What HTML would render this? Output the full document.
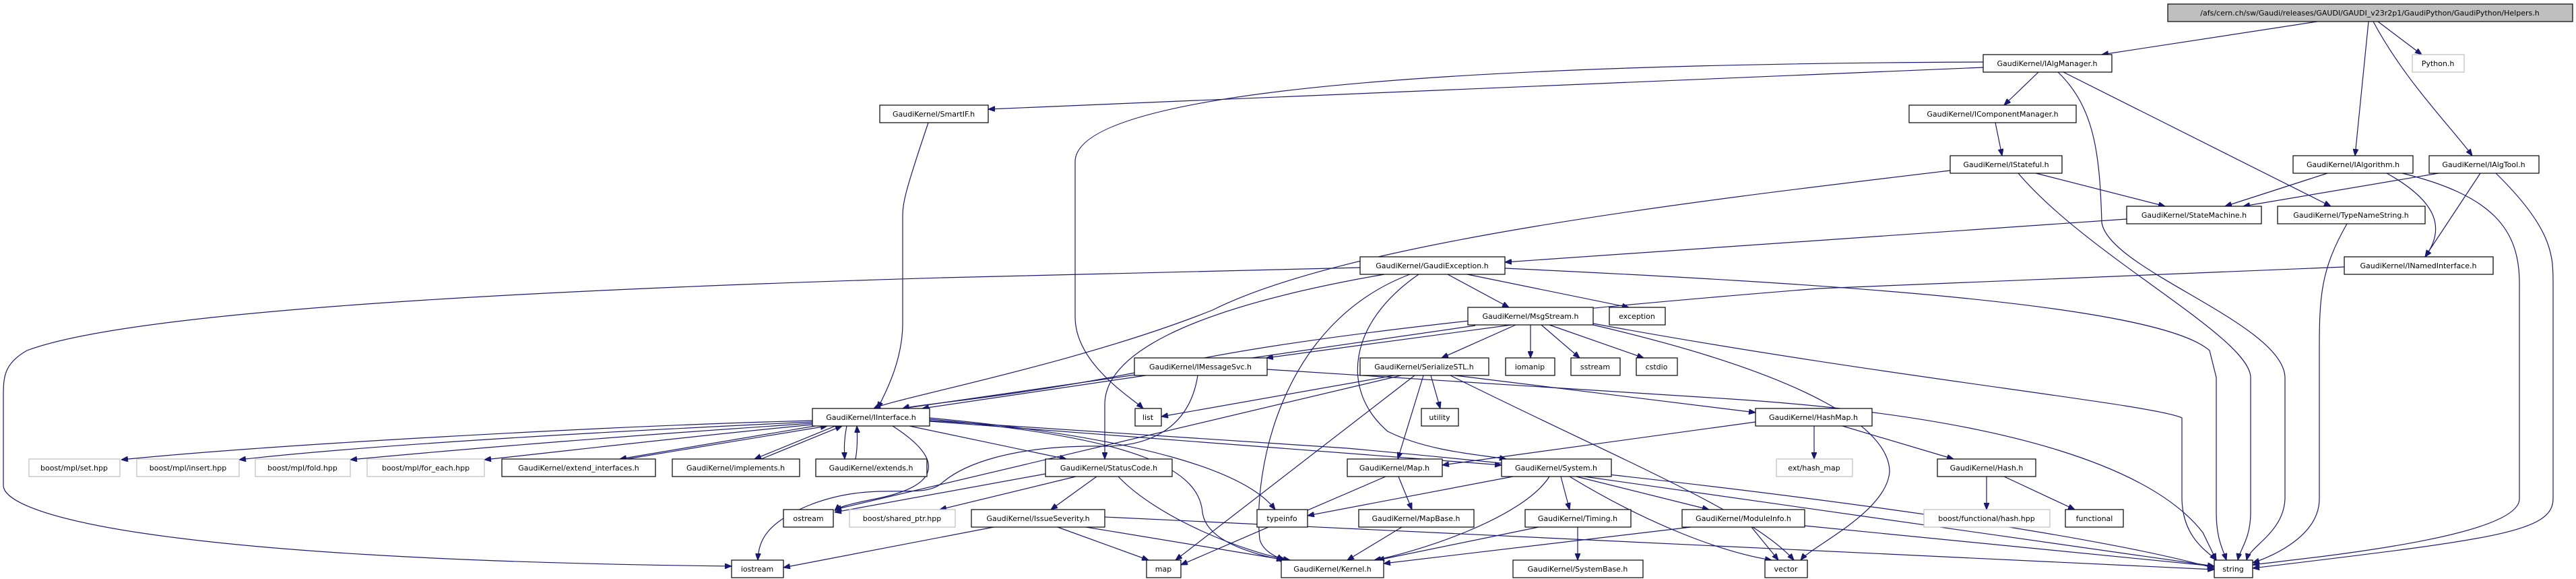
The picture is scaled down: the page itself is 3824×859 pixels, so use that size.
<!DOCTYPE html>
<html><head><meta charset="utf-8"><style>
html,body{margin:0;padding:0;background:#fff;}
svg{display:block;}
text{font-family:"DejaVu Sans","Liberation Sans",sans-serif;font-size:11px;fill:#000;text-anchor:middle;}
.e{fill:none;stroke:#191970;stroke-width:1.2;marker-end:url(#a);}
.n{fill:#fff;stroke:#000;stroke-width:1.2;}
.g{fill:#fff;stroke:#bfbfbf;stroke-width:1.2;}
.h{fill:#bfbfbf;stroke:#000;stroke-width:1.2;}
</style></head><body>
<svg width="3824" height="859" viewBox="0 0 3824 859" xmlns="http://www.w3.org/2000/svg">
<defs><marker id="a" viewBox="0 0 10 8" refX="10" refY="4" markerWidth="10" markerHeight="8" markerUnits="userSpaceOnUse" orient="auto"><path d="M0,0 L10,4 L0,8 z" fill="#191970" stroke="#191970"/></marker></defs>
<g>
<path class="e" d="M3440,32 L3120,81"/>
<path class="e" d="M3530,32 L3595,81"/>
<path class="e" d="M3516,32 L3496,231"/>
<path class="e" d="M3523,32 C3570,120 3640,190 3670,231"/>
<path class="e" d="M2944,100 L1467,162"/>
<path class="e" d="M2944,92 C2200,95 1596,130 1596,240 L1596,470 C1596,540 1680,590 1697,606"/>
<path class="e" d="M3026,107 L2975,156"/>
<path class="e" d="M3055,107 C3110,160 3117,230 3120,330 C3130,400 3390,480 3392,560 L3392,740 C3390,790 3340,810 3335,831"/>
<path class="e" d="M3063,107 L3460,306"/>
<path class="e" d="M2962,182 L2972,231"/>
<path class="e" d="M3022,257 L3214,306"/>
<path class="e" d="M2996,257 C3100,380 3340,500 3341,560 L3341,760 C3341,800 3325,815 3322,831"/>
<path class="e" d="M2895,253 C2500,300 2000,360 1800,460 C1600,540 1330,590 1297,606"/>
<path class="e" d="M3455,257 L3303,306"/>
<path class="e" d="M3543,257 C3620,300 3630,340 3600,381"/>
<path class="e" d="M3566,257 C3700,290 3740,340 3740,420 L3740,740 C3740,800 3400,830 3344,838"/>
<path class="e" d="M3620,257 L3330,306"/>
<path class="e" d="M3682,257 L3600,381"/>
<path class="e" d="M3705,257 C3790,340 3790,380 3790,420 L3790,740 C3790,790 3700,800 3344,843"/>
<path class="e" d="M3157,325 L2234,389"/>
<path class="e" d="M3484,332 C3445,400 3443,440 3443,520 L3443,740 C3443,800 3360,830 3344,835"/>
<path class="e" d="M3480,396 L2700,428 C2300,460 1900,500 1700,550 C1500,590 1360,600 1340,606"/>
<path class="e" d="M2019,397 L1400,412 C800,430 200,460 40,520 C5,540 5,560 5,590 L5,720 C5,760 200,830 1086,840"/>
<path class="e" d="M2149,407 L2240,456"/>
<path class="e" d="M2178,407 L2418,456"/>
<path class="e" d="M2055,407 C1750,460 1640,530 1640,600 L1640,681"/>
<path class="e" d="M2093,407 C1900,480 1860,700 1870,800 C1875,820 1900,828 1905,831"/>
<path class="e" d="M2106,407 C2000,480 1990,580 2060,640 C2120,670 2200,675 2236,681"/>
<path class="e" d="M2234,398 C2700,420 3200,450 3280,520 L3290,560 L3290,760 C3290,800 3300,815 3305,831"/>
<path class="e" d="M2190,483 L1340,606"/>
<path class="e" d="M2244,482 L1880,531"/>
<path class="e" d="M2250,482 L2140,531"/>
<path class="e" d="M2272,482 L2272,531"/>
<path class="e" d="M2288,482 L2345,531"/>
<path class="e" d="M2300,482 L2440,531"/>
<path class="e" d="M2365,482 C2700,560 2805,640 2805,700 C2800,760 2690,810 2673,831"/>
<path class="e" d="M2365,480 C2800,560 3200,600 3239,620 L3239,740 C3240,800 3280,820 3290,831"/>
<path class="e" d="M1701,557 L1369,606"/>
<path class="e" d="M1778,557 C1765,640 1700,662 1640,662 C1500,660 1430,690 1400,715 C1370,745 1300,710 1200,750 C1140,775 1126,800 1125,831"/>
<path class="e" d="M1881,548 L2570,592 C3000,620 3200,700 3270,790 L3290,831"/>
<path class="e" d="M2070,557 L1724,618"/>
<path class="e" d="M2080,557 L1239,756"/>
<path class="e" d="M2100,557 L1745,831"/>
<path class="e" d="M2113,557 L2075,681"/>
<path class="e" d="M2124,557 L2138,606"/>
<path class="e" d="M2160,557 L2606,612"/>
<path class="e" d="M2153,557 C2400,680 2600,760 2663,831"/>
<path class="e" d="M2606,626 L2141,690"/>
<path class="e" d="M2693,632 L2693,681"/>
<path class="e" d="M2735,632 L2900,681"/>
<path class="e" d="M2949,707 L2949,756"/>
<path class="e" d="M2975,707 L3080,756"/>
<path class="e" d="M1206,624 C900,632 400,660 180,682"/>
<path class="e" d="M1206,626 C900,640 550,660 355,682"/>
<path class="e" d="M1206,628 C950,645 700,665 520,682"/>
<path class="e" d="M1206,630 C1000,650 850,668 719,682"/>
<path class="e" d="M1210,632 L920,681"/>
<path class="e" d="M930,681 L1228,632"/>
<path class="e" d="M1240,632 L1120,681"/>
<path class="e" d="M1130,681 L1250,632"/>
<path class="e" d="M1257,632 C1253,650 1253,665 1254,681"/>
<path class="e" d="M1270,681 C1273,665 1273,650 1272,632"/>
<path class="e" d="M1350,632 L1583,681"/>
<path class="e" d="M1380,620 C1700,650 1850,700 1893,756"/>
<path class="e" d="M1380,622 C1700,650 1780,700 1785,760 C1790,800 1850,820 1905,831"/>
<path class="e" d="M1380,625 L2229,690"/>
<path class="e" d="M1380,624 L2000,665 C2600,720 3100,790 3287,843"/>
<path class="e" d="M1325,632 C1400,680 1400,720 1300,740 C1260,748 1245,752 1239,758"/>
<path class="e" d="M1552,703 L1239,760"/>
<path class="e" d="M1597,707 L1395,756"/>
<path class="e" d="M1628,707 L1560,756"/>
<path class="e" d="M1660,707 C1720,770 1850,820 1915,831"/>
<path class="e" d="M1475,782 L1163,842"/>
<path class="e" d="M1570,782 L1705,831"/>
<path class="e" d="M1612,782 L1910,831"/>
<path class="e" d="M1640,767 L3287,845"/>
<path class="e" d="M2057,707 L1753,838"/>
<path class="e" d="M2076,707 L2096,756"/>
<path class="e" d="M2081,782 L2000,831"/>
<path class="e" d="M2246,707 L1941,765"/>
<path class="e" d="M2300,707 C2260,770 2100,820 2040,831"/>
<path class="e" d="M2317,707 L2330,756"/>
<path class="e" d="M2340,707 L2537,756"/>
<path class="e" d="M2330,707 C2450,780 2560,820 2630,831"/>
<path class="e" d="M2352,707 L3287,840"/>
<path class="e" d="M2284,782 L2045,831"/>
<path class="e" d="M2342,782 L2342,831"/>
<path class="e" d="M2510,782 L2054,836"/>
<path class="e" d="M2600,782 L2640,831"/>
<path class="e" d="M2679,780 L3287,840"/>
<path class="e" d="M1378,182 C1345,280 1340,300 1340,320 L1340,479 C1340,540 1310,590 1303,606"/>
</g>
<g>
<rect class="h" x="3218" y="6" width="601" height="26"/><text x="3518" y="23">/afs/cern.ch/sw/Gaudi/releases/GAUDI/GAUDI_v23r2p1/GaudiPython/GaudiPython/Helpers.h</text>
<rect class="n" x="2944" y="81" width="191" height="26"/><text x="3039" y="98">GaudiKernel/IAlgManager.h</text>
<rect class="g" x="3581" y="81" width="77" height="26"/><text x="3619" y="98">Python.h</text>
<rect class="n" x="1306" y="156" width="161" height="26"/><text x="1386" y="173">GaudiKernel/SmartIF.h</text>
<rect class="n" x="2834" y="156" width="248" height="26"/><text x="2958" y="173">GaudiKernel/IComponentManager.h</text>
<rect class="n" x="2895" y="231" width="166" height="26"/><text x="2978" y="248">GaudiKernel/IStateful.h</text>
<rect class="n" x="3404" y="231" width="178" height="26"/><text x="3493" y="248">GaudiKernel/IAlgorithm.h</text>
<rect class="n" x="3606" y="231" width="163" height="26"/><text x="3687" y="248">GaudiKernel/IAlgTool.h</text>
<rect class="n" x="3157" y="306" width="200" height="26"/><text x="3257" y="323">GaudiKernel/StateMachine.h</text>
<rect class="n" x="3381" y="306" width="219" height="26"/><text x="3490" y="323">GaudiKernel/TypeNameString.h</text>
<rect class="n" x="2019" y="381" width="215" height="26"/><text x="2126" y="398">GaudiKernel/GaudiException.h</text>
<rect class="n" x="3480" y="381" width="221" height="26"/><text x="3590" y="398">GaudiKernel/INamedInterface.h</text>
<rect class="n" x="2179" y="456" width="186" height="26"/><text x="2272" y="473">GaudiKernel/MsgStream.h</text>
<rect class="n" x="2389" y="456" width="83" height="26"/><text x="2430" y="473">exception</text>
<rect class="n" x="1684" y="531" width="197" height="26"/><text x="1782" y="548">GaudiKernel/IMessageSvc.h</text>
<rect class="n" x="2019" y="531" width="191" height="26"/><text x="2114" y="548">GaudiKernel/SerializeSTL.h</text>
<rect class="n" x="2235" y="531" width="73" height="26"/><text x="2271" y="548">iomanip</text>
<rect class="n" x="2332" y="531" width="73" height="26"/><text x="2368" y="548">sstream</text>
<rect class="n" x="2429" y="531" width="61" height="26"/><text x="2459" y="548">cstdio</text>
<rect class="n" x="1206" y="606" width="174" height="26"/><text x="1293" y="623">GaudiKernel/IInterface.h</text>
<rect class="n" x="1685" y="606" width="39" height="26"/><text x="1704" y="623">list</text>
<rect class="n" x="2110" y="606" width="55" height="26"/><text x="2137" y="623">utility</text>
<rect class="n" x="2606" y="606" width="173" height="26"/><text x="2692" y="623">GaudiKernel/HashMap.h</text>
<rect class="g" x="43" y="681" width="135" height="26"/><text x="110" y="698">boost/mpl/set.hpp</text>
<rect class="g" x="203" y="681" width="152" height="26"/><text x="279" y="698">boost/mpl/insert.hpp</text>
<rect class="g" x="379" y="681" width="141" height="26"/><text x="449" y="698">boost/mpl/fold.hpp</text>
<rect class="g" x="545" y="681" width="174" height="26"/><text x="632" y="698">boost/mpl/for_each.hpp</text>
<rect class="n" x="745" y="681" width="228" height="26"/><text x="859" y="698">GaudiKernel/extend_interfaces.h</text>
<rect class="n" x="998" y="681" width="189" height="26"/><text x="1092" y="698">GaudiKernel/implements.h</text>
<rect class="n" x="1211" y="681" width="165" height="26"/><text x="1293" y="698">GaudiKernel/extends.h</text>
<rect class="n" x="1552" y="681" width="188" height="26"/><text x="1646" y="698">GaudiKernel/StatusCode.h</text>
<rect class="n" x="2000" y="681" width="141" height="26"/><text x="2070" y="698">GaudiKernel/Map.h</text>
<rect class="n" x="2229" y="681" width="163" height="26"/><text x="2310" y="698">GaudiKernel/System.h</text>
<rect class="g" x="2637" y="681" width="113" height="26"/><text x="2693" y="698">ext/hash_map</text>
<rect class="n" x="2876" y="681" width="146" height="26"/><text x="2949" y="698">GaudiKernel/Hash.h</text>
<rect class="n" x="1163" y="756" width="74" height="26"/><text x="1200" y="773">ostream</text>
<rect class="g" x="1261" y="756" width="157" height="26"/><text x="1339" y="773">boost/shared_ptr.hpp</text>
<rect class="n" x="1442" y="756" width="198" height="26"/><text x="1541" y="773">GaudiKernel/IssueSeverity.h</text>
<rect class="n" x="1866" y="756" width="75" height="26"/><text x="1903" y="773">typeinfo</text>
<rect class="n" x="2017" y="756" width="171" height="26"/><text x="2102" y="773">GaudiKernel/MapBase.h</text>
<rect class="n" x="2264" y="756" width="157" height="26"/><text x="2342" y="773">GaudiKernel/Timing.h</text>
<rect class="n" x="2497" y="756" width="182" height="26"/><text x="2588" y="773">GaudiKernel/ModuleInfo.h</text>
<rect class="g" x="2856" y="756" width="187" height="26"/><text x="2949" y="773">boost/functional/hash.hpp</text>
<rect class="n" x="3066" y="756" width="86" height="26"/><text x="3109" y="773">functional</text>
<rect class="n" x="1086" y="831" width="77" height="26"/><text x="1124" y="848">iostream</text>
<rect class="n" x="1702" y="831" width="51" height="26"/><text x="1727" y="848">map</text>
<rect class="n" x="1902" y="831" width="152" height="26"/><text x="1978" y="848">GaudiKernel/Kernel.h</text>
<rect class="n" x="2246" y="831" width="193" height="26"/><text x="2342" y="848">GaudiKernel/SystemBase.h</text>
<rect class="n" x="2620" y="831" width="63" height="26"/><text x="2651" y="848">vector</text>
<rect class="n" x="3287" y="831" width="57" height="26"/><text x="3315" y="848">string</text>
</g>
</svg>
</body></html>
